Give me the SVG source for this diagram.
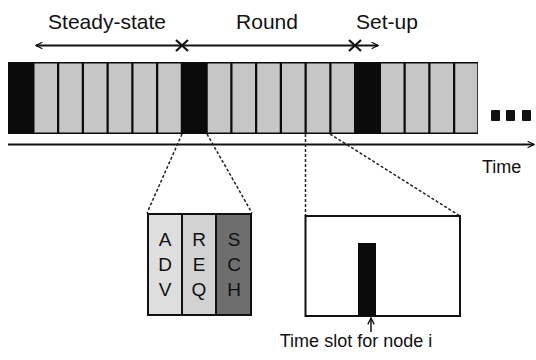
<svg xmlns="http://www.w3.org/2000/svg" width="536" height="360" viewBox="0 0 536 360">
<style>
text{font-family:"Liberation Sans",Arial,sans-serif;fill:#111}
.lbl{font-size:21px}
.let{font-size:19px;text-anchor:middle}
.lt{fill:#c6c6c6}
.dash{fill:none;stroke:#222;stroke-width:1.5;stroke-dasharray:3 2}
.ln{fill:none;stroke:#111;stroke-width:2}
</style>
<defs>
<marker id="ah" viewBox="0 0 10 10" refX="9" refY="5" markerWidth="8" markerHeight="8" markerUnits="userSpaceOnUse" orient="auto-start-reverse">
<path d="M1,1 L9,5 L1,9" fill="none" stroke="#111" stroke-width="1.6"/>
</marker>
</defs>
<rect width="536" height="360" fill="#fff"/>
<g id="labels">
<text class="lbl" x="107" y="29" text-anchor="middle">Steady-state</text>
<text class="lbl" x="267" y="29" text-anchor="middle">Round</text>
<text class="lbl" x="387" y="29" text-anchor="middle">Set-up</text>
<text x="482" y="173" font-size="18">Time</text>
</g>
<g id="connectors">
<line class="ln" x1="36" y1="45.5" x2="378" y2="45.5" marker-start="url(#ah)" marker-end="url(#ah)"/>
<path d="M176,40 L188,51 M188,40 L176,51" stroke="#111" stroke-width="2.2" fill="none"/>
<path d="M349,40 L361,51 M361,40 L349,51" stroke="#111" stroke-width="2.2" fill="none"/>
<line class="ln" x1="8" y1="144.5" x2="534" y2="144.5" marker-end="url(#ah)"/>
<line class="dash" x1="182" y1="134" x2="147" y2="213"/>
<line class="dash" x1="207" y1="134" x2="252" y2="213"/>
<line class="dash" x1="305.5" y1="134" x2="305.5" y2="216"/>
<line class="dash" x1="330" y1="134" x2="460" y2="216"/>
<line x1="371" y1="332" x2="371" y2="318" stroke="#111" stroke-width="1.5" marker-end="url(#ah)"/>
</g>
<g id="frame">
<rect x="8" y="62" width="470" height="72" fill="#0b0b0b"/>
<rect class="lt" x="34.5" y="63.5" width="22.5" height="69"/>
<rect class="lt" x="59.25" y="63.5" width="22.5" height="69"/>
<rect class="lt" x="84" y="63.5" width="22.5" height="69"/>
<rect class="lt" x="108.75" y="63.5" width="22.5" height="69"/>
<rect class="lt" x="133.5" y="63.5" width="22.5" height="69"/>
<rect class="lt" x="158.25" y="63.5" width="22.5" height="69"/>
<rect class="lt" x="207.75" y="63.5" width="22.5" height="69"/>
<rect class="lt" x="232.5" y="63.5" width="22.5" height="69"/>
<rect class="lt" x="257.25" y="63.5" width="22.5" height="69"/>
<rect class="lt" x="282" y="63.5" width="22.5" height="69"/>
<rect class="lt" x="306.75" y="63.5" width="22.5" height="69"/>
<rect class="lt" x="331.5" y="63.5" width="22.5" height="69"/>
<rect class="lt" x="381" y="63.5" width="22.5" height="69"/>
<rect class="lt" x="405.75" y="63.5" width="22.5" height="69"/>
<rect class="lt" x="430.5" y="63.5" width="22.5" height="69"/>
<rect class="lt" x="455.25" y="63.5" width="22" height="69"/>
</g>
<g id="ellipsis" fill="#111">
<rect x="491" y="110" width="9" height="11" rx="1"/>
<rect x="506" y="110" width="9" height="11" rx="1"/>
<rect x="522" y="110" width="9" height="11" rx="1"/>
</g>
<g id="zoom-left">
<rect x="147" y="213" width="105" height="103" fill="#111"/>
<rect x="149" y="215" width="32" height="99" fill="#dedede"/>
<rect x="183" y="215" width="32" height="99" fill="#d2d2d2"/>
<rect x="217" y="215" width="33" height="99" fill="#6e6e6e"/>
<text class="let" x="165" y="246">A</text>
<text class="let" x="165" y="271">D</text>
<text class="let" x="165" y="296">V</text>
<text class="let" x="199" y="246">R</text>
<text class="let" x="199" y="271">E</text>
<text class="let" x="199" y="296">Q</text>
<text class="let" x="234" y="246">S</text>
<text class="let" x="234" y="271">C</text>
<text class="let" x="234" y="296">H</text>
</g>
<g id="zoom-right">
<rect x="305.5" y="216" width="154.5" height="100" fill="#fff" stroke="#111" stroke-width="2"/>
<rect x="358" y="243" width="18" height="73" fill="#0b0b0b"/>
<text x="356" y="347" font-size="18" text-anchor="middle">Time slot for node i</text>
</g>
</svg>
